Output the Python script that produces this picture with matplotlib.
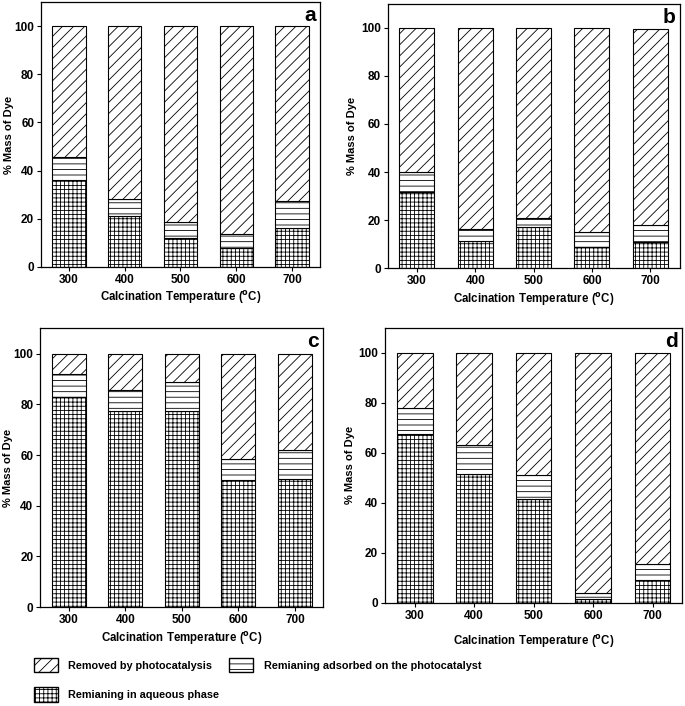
import matplotlib
matplotlib.use("Agg")
import matplotlib.pyplot as plt
from matplotlib.patches import Patch
import numpy as np

plt.rcParams['font.family'] = ['Liberation Sans', 'DejaVu Sans']
plt.rcParams['font.weight'] = 'bold'
plt.rcParams['hatch.linewidth'] = 0.6

temps = ['300', '400', '500', '600', '700']

# panel a
a_aqueous = [36, 21, 12, 8, 16]
a_adsorbed = [9.5, 7, 6.5, 5.5, 11.5]
a_removed = [54.5, 72, 81.5, 86.5, 72.5]
# panel b
b_aqueous = [31.5, 11.5, 17, 9, 11]
b_adsorbed = [8.5, 5, 4, 6, 7]
b_removed = [60, 83.5, 79, 85, 81.3]
# panel c
c_aqueous = [83, 77.5, 77.5, 50, 50.5]
c_adsorbed = [9, 8, 11.5, 8.5, 11.5]
c_removed = [8, 14.5, 11, 41.5, 38]
# panel d
d_aqueous = [67.5, 51.5, 41.5, 1.5, 9]
d_adsorbed = [10.5, 11.5, 9.5, 2.5, 6.5]
d_removed = [22, 37, 49, 96, 84.5]

legend_labels = ['Removed by photocatalysis', 'Remianing adsorbed on the photocatalyst',
                 'Remianing in aqueous phase']

H_REM = '///'
H_ADS = '---'
H_AQ = '++++'

fig = plt.figure(figsize=(6.85, 7.06), dpi=100)

panels = [
    ('a', a_aqueous, a_adsorbed, a_removed, [0.060, 0.622, 0.407, 0.375], 2.5, 0.5),
    ('b', b_aqueous, b_adsorbed, b_removed, [0.566, 0.620, 0.426, 0.375], 2.5, 2.5),
    ('c', c_aqueous, c_adsorbed, c_removed, [0.059, 0.140, 0.413, 0.395], 2.5, 0.5),
    ('d', d_aqueous, d_adsorbed, d_removed, [0.562, 0.146, 0.434, 0.390], 8, 2.5),
]

for label, aq, ads, rem, pos, xpad, ypad in panels:
    ax = fig.add_axes(pos)
    x = np.arange(len(temps))
    aq = np.array(aq, float); ads = np.array(ads, float); rem = np.array(rem, float)
    w = 0.6
    ax.bar(x, aq, w, color='white', edgecolor='black', hatch=H_AQ, linewidth=0.8)
    ax.bar(x, ads, w, bottom=aq, color='white', edgecolor='black', hatch=H_ADS, linewidth=0.8)
    ax.bar(x, rem, w, bottom=aq + ads, color='white', edgecolor='black', hatch=H_REM, linewidth=0.8)
    ax.set_xlim(-0.5, 4.5)
    ax.set_ylim(0, 110)
    ax.set_yticks([0, 20, 40, 60, 80, 100])
    ax.set_xticks(x)
    ax.set_xticklabels(temps)
    ax.tick_params(axis='both', labelsize=8.5, length=3, width=0.8, direction='out', pad=2)
    for t in ax.get_xticklabels() + ax.get_yticklabels():
        t.set_fontweight('bold')
    ax.set_ylabel('% Mass of Dye', fontsize=8, fontweight='bold', labelpad=ypad)
    ax.set_xlabel('Calcination Temperature ($\\mathbf{^{o}}$C)', fontsize=8.3, fontweight='bold',
                  labelpad=xpad)
    for s in ax.spines.values():
        s.set_linewidth(0.9)
    ax.text(0.985, 0.985, label, transform=ax.transAxes, ha='right', va='top',
            fontsize=15, fontweight='bold')

handles = [
    Patch(facecolor='white', edgecolor='black', hatch=H_REM, label=legend_labels[0]),
    Patch(facecolor='white', edgecolor='black', hatch=H_AQ, label=legend_labels[2]),
    Patch(facecolor='white', edgecolor='black', hatch=H_ADS, label=legend_labels[1]),
]
fig.legend(handles=handles, loc='lower left', bbox_to_anchor=(0.043, 0.0), ncol=2,
           frameon=False, handlelength=2.2, handleheight=1.65, borderaxespad=0.0,
           handletextpad=1.0, columnspacing=0.9, labelspacing=1.4,
           prop={'weight': 'bold', 'size': 7.8})

fig.savefig('out.png', dpi=100)
